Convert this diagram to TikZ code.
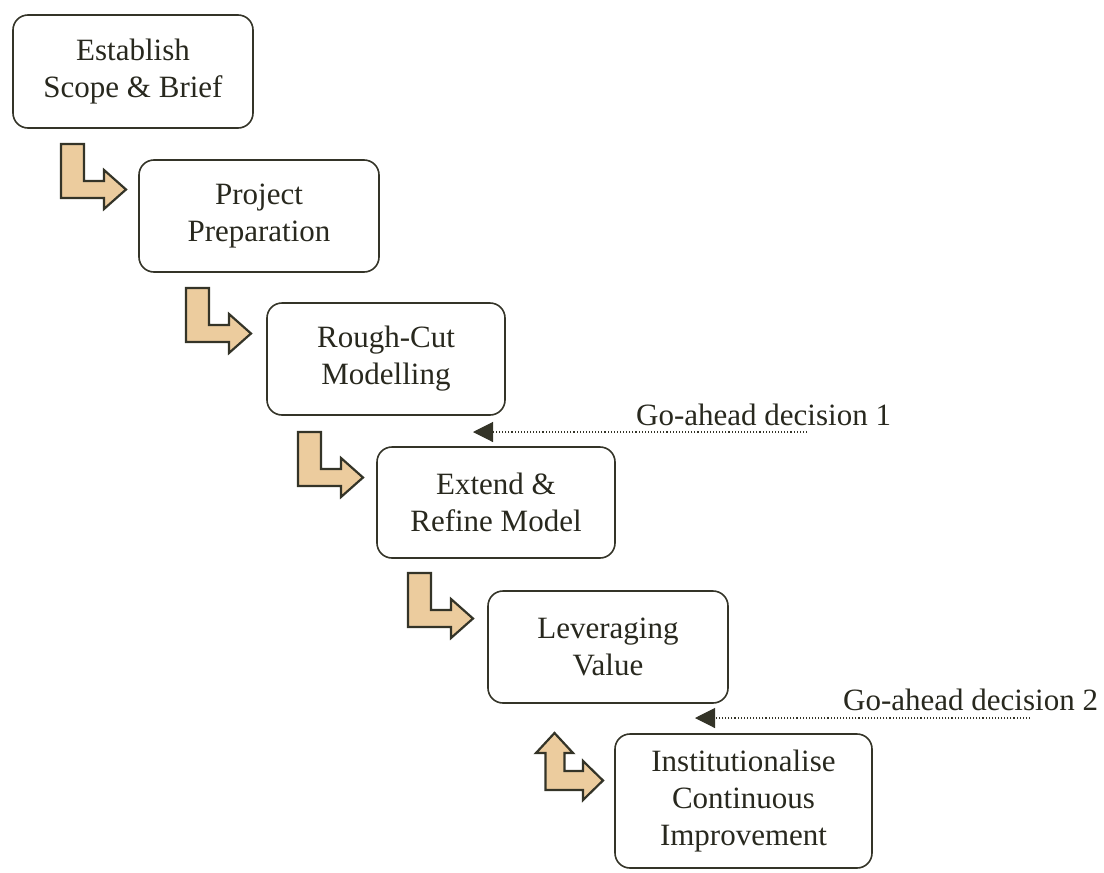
\documentclass[tikz,border=0pt]{standalone}
\usepackage{fontspec}
\setmainfont{Liberation Serif}
\usetikzlibrary{arrows.meta}
\definecolor{inkline}{RGB}{52,52,40}
\definecolor{inktext}{RGB}{40,40,30}
\definecolor{tanfill}{RGB}{236,204,158}
\tikzset{
  stagebox/.style={draw=inkline, line width=1.6pt, rounded corners=15pt,
    align=center, inner sep=0pt, text=inktext,
    font=\fontsize{31}{37}\selectfont},
  blockarrow/.style={draw=inkline, fill=tanfill, line width=2.2pt, line join=miter},
  gate/.style={inkline, line width=1.1pt, dotted,
    -{Triangle[length=20pt,width=20pt]}},
  gatelabel/.style={anchor=base west, inner sep=0pt, text=inktext,
    font=\fontsize{31}{37}\selectfont},
  pics/bentarrow/.style={code={
    \draw[blockarrow] (0,0) -- (23,0) -- (23,37) -- (43,37) -- (43,26)
      -- (65,45.5) -- (43,65) -- (43,54) -- (0,54) -- cycle;}},
  pics/forkarrow/.style={code={
    \draw[blockarrow] (9.5,57) -- (9.5,20) -- (0,20) -- (18.5,0) -- (37,20)
      -- (28.5,20) -- (28.5,38) -- (47,38) -- (47,28) -- (67,47.5)
      -- (47,67) -- (47,57) -- cycle;}}
}
\begin{document}
\begin{tikzpicture}[x=1pt,y=-1pt]
\useasboundingbox (0,0) rectangle (1104,873);

% stages of the cascade
\node[stagebox, minimum width=240pt, minimum height=113pt] (scope) at (133,71.5)
  {Establish\\Scope \& Brief};
\node[stagebox, minimum width=240pt, minimum height=112pt] (prep) at (259,216)
  {Project\\Preparation};
\node[stagebox, minimum width=238pt, minimum height=112pt] (rough) at (386,359)
  {Rough-Cut\\Modelling};
\node[stagebox, minimum width=238pt, minimum height=111pt] (extend) at (496,502.5)
  {Extend \&\\Refine Model};
\node[stagebox, minimum width=240pt, minimum height=112pt] (lever) at (608,647)
  {Leveraging\\Value};
\node[stagebox, minimum width=257pt, minimum height=134pt] (inst) at (743.5,801)
  {Institutionalise\\Continuous\\Improvement};

% bent block arrows between stages
\pic at (61,144) {bentarrow};
\pic at (186,288) {bentarrow};
\pic at (298,432) {bentarrow};
\pic at (408,573) {bentarrow};
\pic at (536,733) {forkarrow};

% go-ahead decision points
\coordinate (g1from) at (807,432);
\coordinate (g1to) at (473,432);
\draw[gate] (g1from) -- (g1to);
\node[gatelabel] (g1label) at (636,425) {Go-ahead decision 1};

\coordinate (g2from) at (1030,718);
\coordinate (g2to) at (695,718);
\draw[gate] (g2from) -- (g2to);
\node[gatelabel] (g2label) at (843,710) {Go-ahead decision 2};
\end{tikzpicture}
\end{document}
